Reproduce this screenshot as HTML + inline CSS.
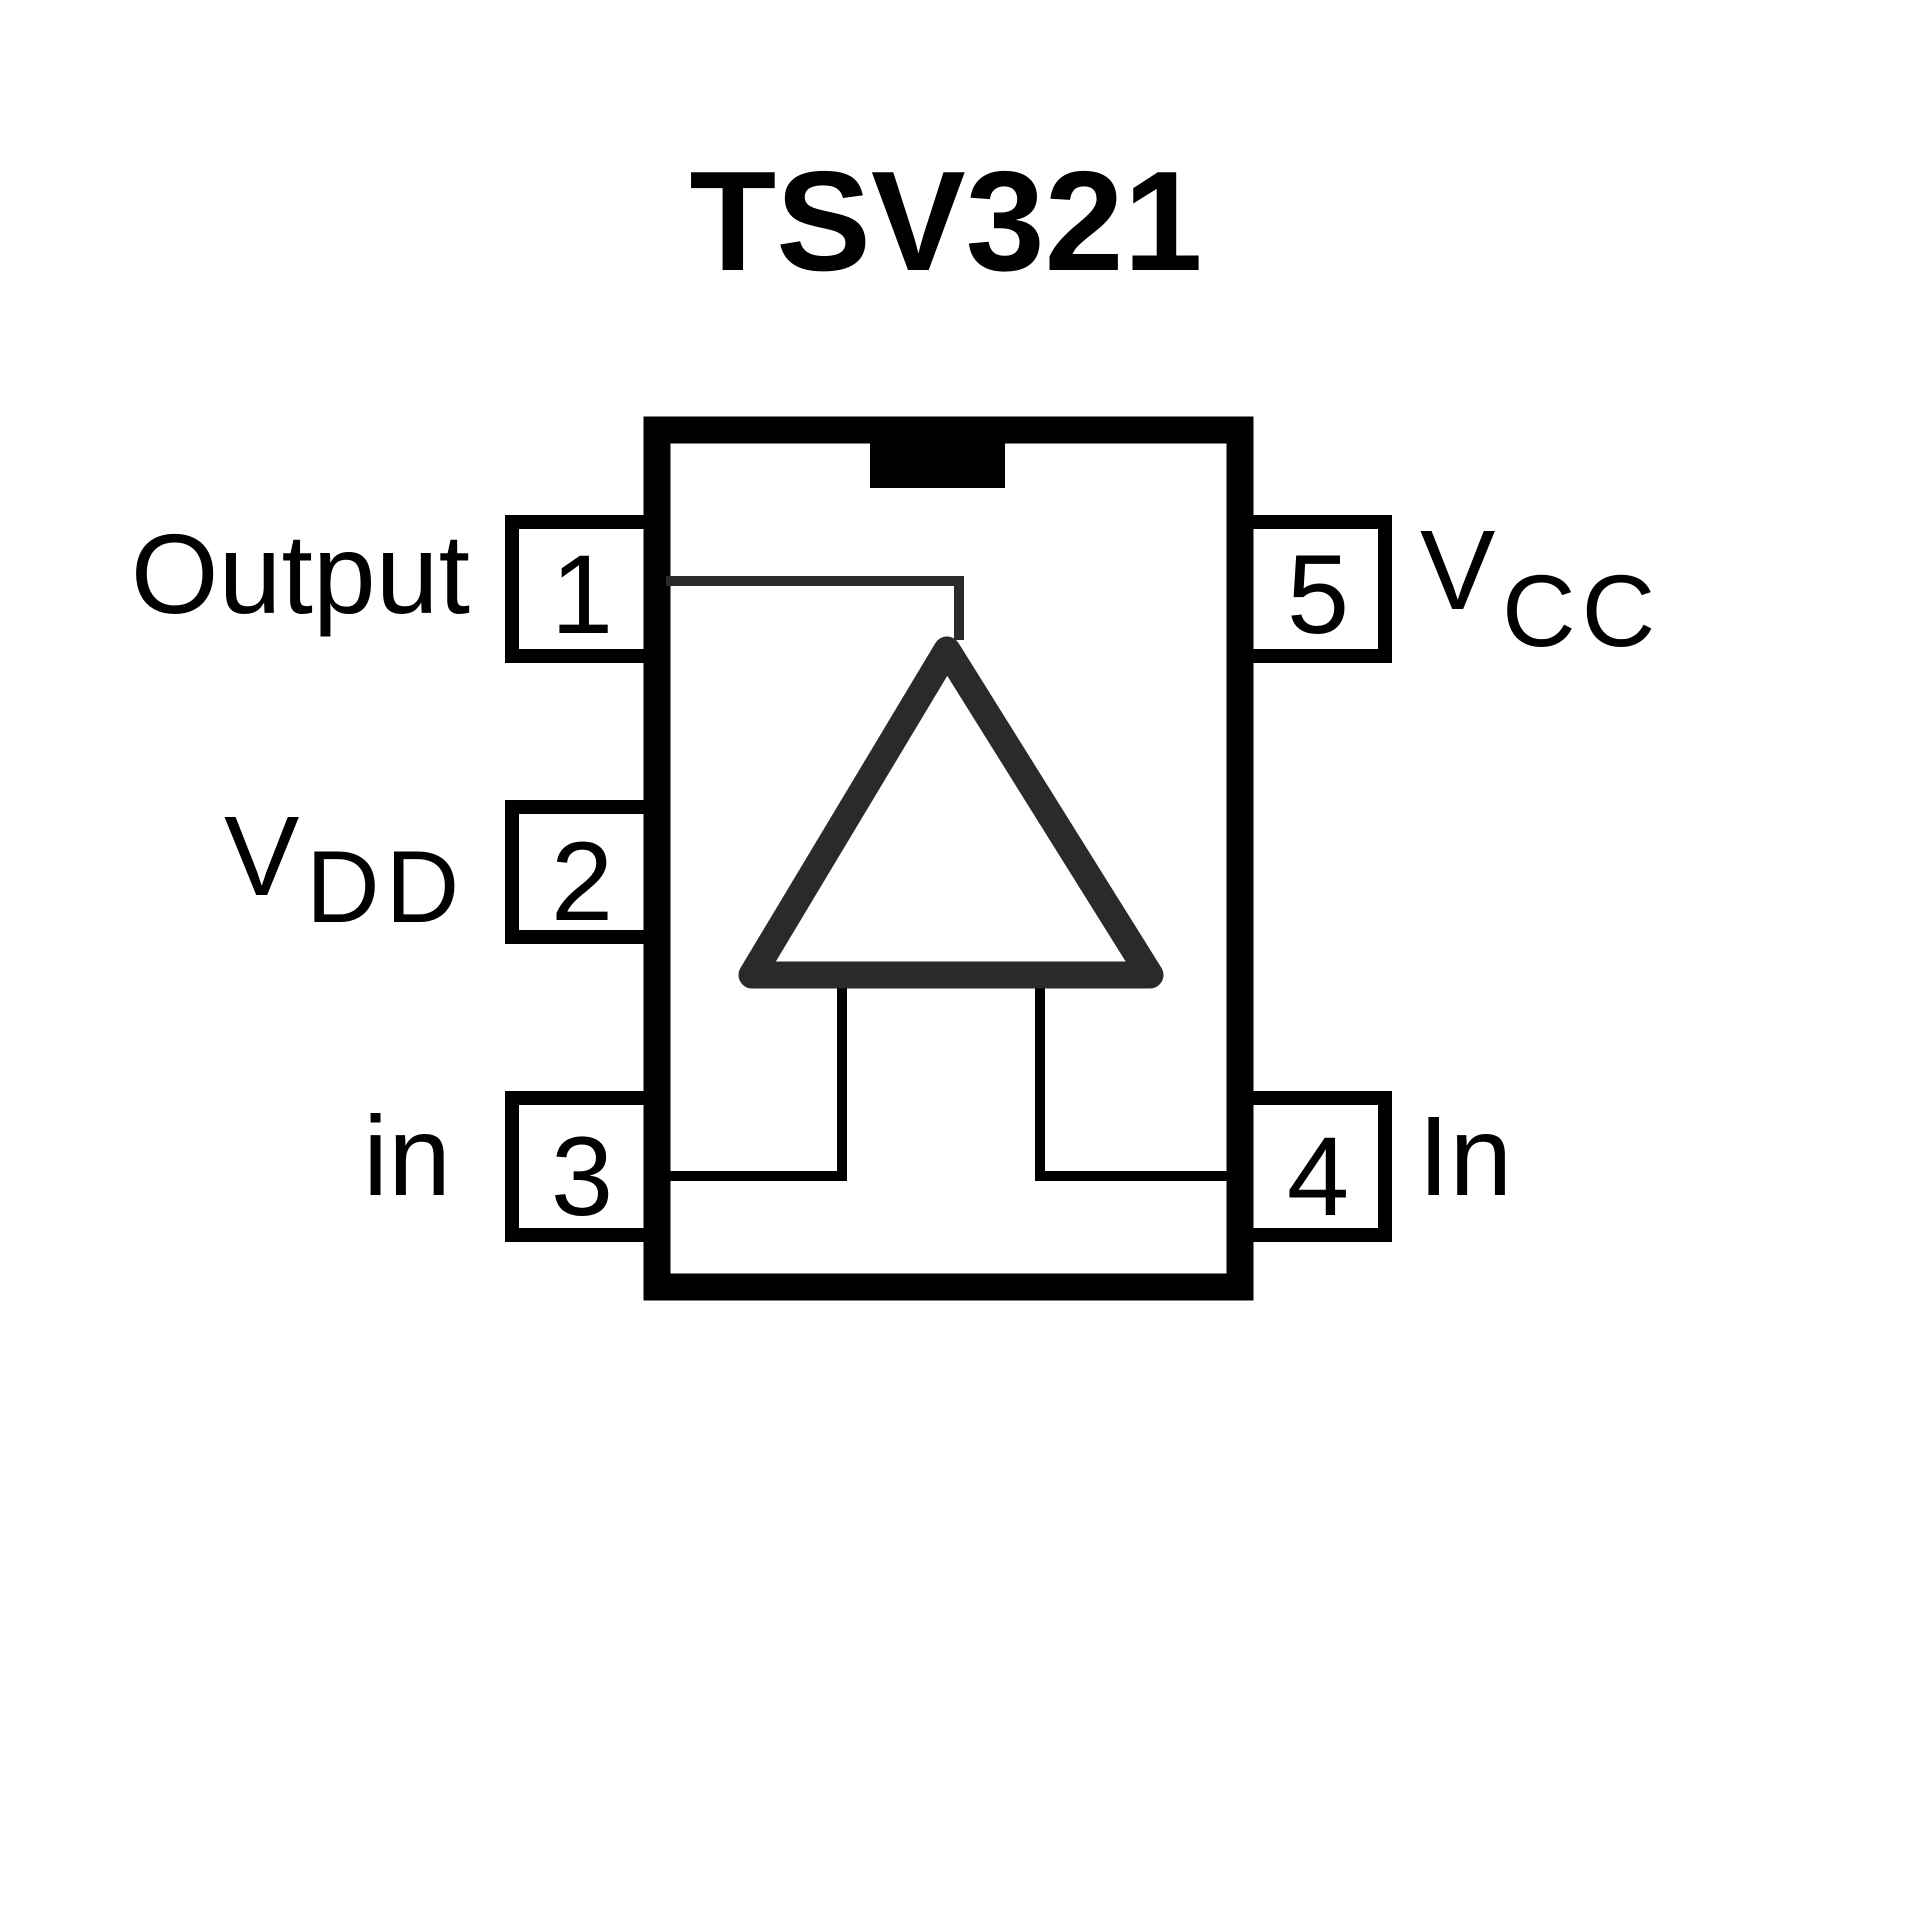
<!DOCTYPE html>
<html><head><meta charset="utf-8"><style>html,body{margin:0;padding:0;background:#fff}svg{display:block}</style></head>
<body>
<svg width="1920" height="1920" viewBox="0 0 1920 1920" xmlns="http://www.w3.org/2000/svg">
<rect width="1920" height="1920" fill="#fff"/>
<text x="946" y="270" text-anchor="middle" font-family="Liberation Sans, sans-serif" font-weight="bold" font-size="142">TSV321</text>
<g fill="none" stroke="#000" stroke-width="14">
<rect x="512" y="522" width="140" height="134"/>
<rect x="512" y="807" width="140" height="130"/>
<rect x="512" y="1098" width="140" height="137"/>
<rect x="1245" y="522" width="140" height="134"/>
<rect x="1245" y="1098" width="140" height="137"/>
</g>
<rect x="657" y="430" width="583" height="857" fill="#fff" stroke="#000" stroke-width="27"/>
<rect x="657" y="430" width="583" height="6" fill="#000"/>
<rect x="870" y="440" width="135" height="48" fill="#000"/>
<polyline points="666,581 959,581 959,640" fill="none" stroke="#2a2a2a" stroke-width="10"/>
<polyline points="666,1176 842,1176 842,985" fill="none" stroke="#000" stroke-width="10"/>
<polyline points="1230,1176 1040,1176 1040,985" fill="none" stroke="#000" stroke-width="10"/>
<polygon points="947,650 752,975 1150,975" fill="none" stroke="#2a2a2a" stroke-width="27" stroke-linejoin="round"/>
<g font-family="Liberation Sans, sans-serif" font-size="112" text-anchor="middle">
<text x="582" y="633">1</text>
<text x="582" y="920">2</text>
<text x="582" y="1215">3</text>
<text x="1318" y="1215">4</text>
<text x="1318" y="633">5</text>
</g>
<g font-family="Liberation Sans, sans-serif" font-size="113">
<text x="470" y="613" text-anchor="end">Output</text>
<text x="224" y="895">V</text><text x="306" y="922" font-size="102" letter-spacing="6">DD</text>
<text x="451" y="1195" text-anchor="end">in</text>
<text x="1420" y="609">V</text><text x="1502" y="646" font-size="102" letter-spacing="6">CC</text>
<text x="1418" y="1195">In</text>
</g>
</svg>
</body></html>
